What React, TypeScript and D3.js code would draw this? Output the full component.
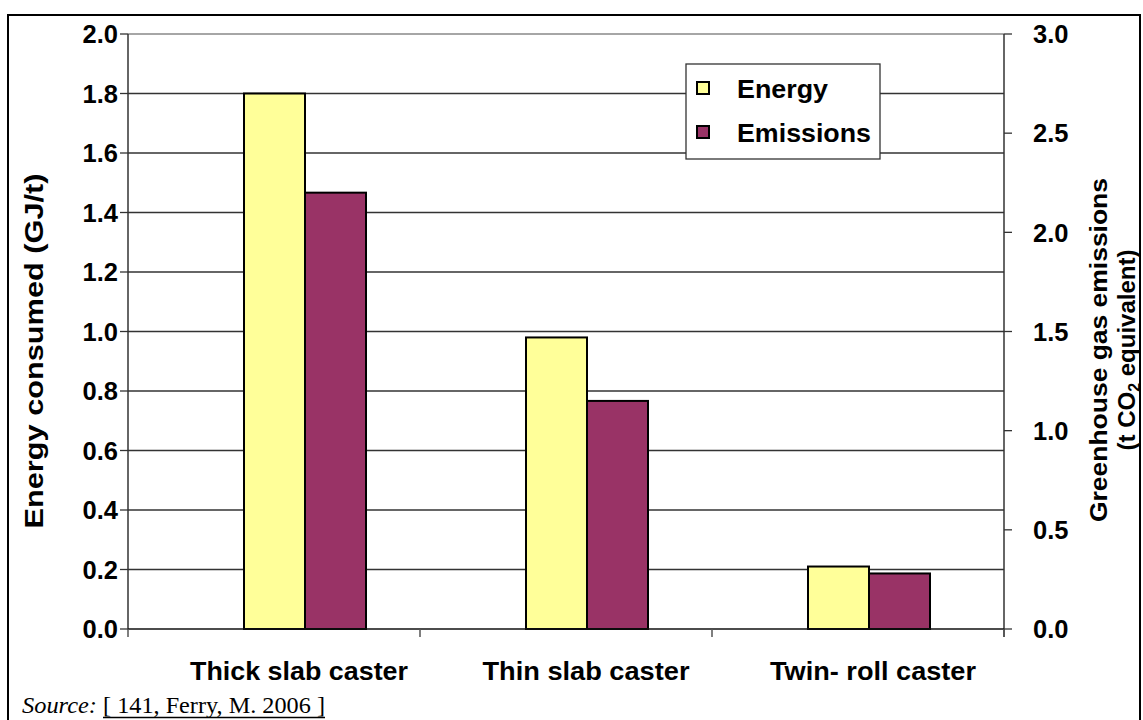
import React from "react";
import * as d3 from "d3";

const categories = ["Thick slab caster", "Thin slab caster", "Twin-roll caster"];
const categoryLabels = ["Thick slab caster", "Thin slab caster", "Twin- roll caster"];
const energy = [1.8, 0.98, 0.21];
const emissions = [2.2, 1.15, 0.28];
const leftTicks = [0, 0.2, 0.4, 0.6, 0.8, 1.0, 1.2, 1.4, 1.6, 1.8, 2.0];
const rightTicks = [0, 0.5, 1.0, 1.5, 2.0, 2.5, 3.0];
const seriesNames = ["Energy", "Emissions"];
const seriesColors = ["#FFFF99", "#993366"];

const W = 1143;
const H = 720;
const plot = { left: 128, right: 1004, top: 34, bottom: 629 };
const FONT = "'Liberation Sans', Arial, sans-serif";
const SERIF = "'Liberation Serif', 'Times New Roman', serif";

export default function App() {
  const yL = d3.scaleLinear().domain([0, 2]).range([plot.bottom, plot.top]);
  const yR = d3.scaleLinear().domain([0, 3]).range([plot.bottom, plot.top]);
  const xCat = d3.scaleBand<string>().domain(categories).range([plot.left, plot.right]);
  const xGroup = d3.scalePoint<string>().domain(categories).range([305, 869]);
  const xLabel = d3.scalePoint<string>().domain(categories).range([299, 873]);
  const barW = 61;

  const boundaries = [plot.left, ...categories.map((c) => (xCat(c) as number) + xCat.bandwidth())];
  const labelLens = [218, 207, 206];

  return (
    <svg width={W} height={H} style={{ position: "absolute", left: 0, top: 0, display: "block", background: "#fff" }}>
      <rect x={8} y={15} width={1132} height={720} fill="#fff" stroke="#000" strokeWidth={2} />
      {/* gridlines */}
      {leftTicks.slice(1).map((t) => (
        <line key={"g" + t} x1={plot.left} x2={plot.right} y1={yL(t)} y2={yL(t)} stroke={t === 2 ? "#888" : "#333"} strokeWidth={1.3} />
      ))}
      {/* bars */}
      {categories.map((c, i) => {
        const cx = xGroup(c) as number;
        return (
          <g key={c}>
            <rect x={cx - barW} y={yL(energy[i])} width={barW} height={plot.bottom - yL(energy[i])} fill={seriesColors[0]} stroke="#000" strokeWidth={2} />
            <rect x={cx} y={yR(emissions[i])} width={barW} height={plot.bottom - yR(emissions[i])} fill={seriesColors[1]} stroke="#000" strokeWidth={2} />
          </g>
        );
      })}
      {/* axes */}
      <line x1={plot.left} x2={plot.left} y1={plot.top} y2={plot.bottom} stroke="#333" strokeWidth={1.5} />
      <line x1={plot.right} x2={plot.right} y1={plot.top} y2={plot.bottom + 8} stroke="#333" strokeWidth={1.5} />
      <line x1={plot.left} x2={plot.right} y1={plot.bottom} y2={plot.bottom} stroke="#111" strokeWidth={1.5} />
      {boundaries.map((b, i) => (
        <line key={"b" + i} x1={b} x2={b} y1={plot.bottom} y2={plot.bottom + 8} stroke="#555" strokeWidth={1.5} />
      ))}
      {leftTicks.map((t) => (
        <g key={"l" + t}>
          <line x1={plot.left - 8} x2={plot.left} y1={yL(t)} y2={yL(t)} stroke="#333" strokeWidth={1.3} />
          <text x={118} y={yL(t)} dy="0.36em" textAnchor="end" fontFamily={FONT} fontWeight="bold" fontSize={25.5} fill="#000">
            {d3.format(".1f")(t)}
          </text>
        </g>
      ))}
      {rightTicks.map((t) => (
        <g key={"r" + t}>
          <line x1={plot.right} x2={plot.right + 8} y1={yR(t)} y2={yR(t)} stroke="#333" strokeWidth={1.3} />
          <text x={1033} y={yR(t)} dy="0.36em" textAnchor="start" fontFamily={FONT} fontWeight="bold" fontSize={25.5} fill="#000">
            {d3.format(".1f")(t)}
          </text>
        </g>
      ))}
      {/* category labels */}
      {categories.map((c, i) => (
        <text key={"c" + c} x={xLabel(c) as number} y={680} textAnchor="middle" fontFamily={FONT} fontWeight="bold" fontSize={25} fill="#000" textLength={labelLens[i]} lengthAdjust="spacingAndGlyphs">
          {categoryLabels[i]}
        </text>
      ))}
      {/* axis titles */}
      <text transform={`translate(43, 351) rotate(-90)`} textAnchor="middle" fontFamily={FONT} fontWeight="bold" fontSize={25} fill="#000" textLength={355} lengthAdjust="spacingAndGlyphs">
        Energy consumed (GJ/t)
      </text>
      <text transform={`translate(1107, 350) rotate(-90)`} textAnchor="middle" fontFamily={FONT} fontWeight="bold" fontSize={24} fill="#000" textLength={344} lengthAdjust="spacingAndGlyphs">
        Greenhouse gas emissions
      </text>
      <text transform={`translate(1135, 350) rotate(-90)`} textAnchor="middle" fontFamily={FONT} fontWeight="bold" fontSize={24} fill="#000">
        (t CO<tspan fontSize={16} dy={5}>2</tspan><tspan dy={-5}> equivalent)</tspan>
      </text>
      {/* legend */}
      <rect x={686} y={64} width={194} height={95} fill="#fff" stroke="#333" strokeWidth={1.3} />
      {seriesNames.map((s, i) => (
        <g key={s}>
          <rect x={697} y={82 + i * 44} width={12} height={12} fill={seriesColors[i]} stroke="#000" strokeWidth={2} />
          <text x={737} y={89 + i * 44} dy="0.36em" fontFamily={FONT} fontWeight="bold" fontSize={25.5} fill="#000" textLength={i === 0 ? 91 : 134} lengthAdjust="spacingAndGlyphs">
            {s}
          </text>
        </g>
      ))}
      {/* source */}
      <text x={22} y={713} fontFamily={SERIF} fontStyle="italic" fontSize={24} fill="#000" textLength={75} lengthAdjust="spacingAndGlyphs">
        Source:
      </text>
      <text x={103} y={713} fontFamily={SERIF} fontSize={24} fill="#000" textLength={222} lengthAdjust="spacingAndGlyphs">
        [ 141, Ferry, M. 2006 ]
      </text>
      <line x1={103} x2={325} y1={717.5} y2={717.5} stroke="#000" strokeWidth={1.3} />
    </svg>
  );
}
